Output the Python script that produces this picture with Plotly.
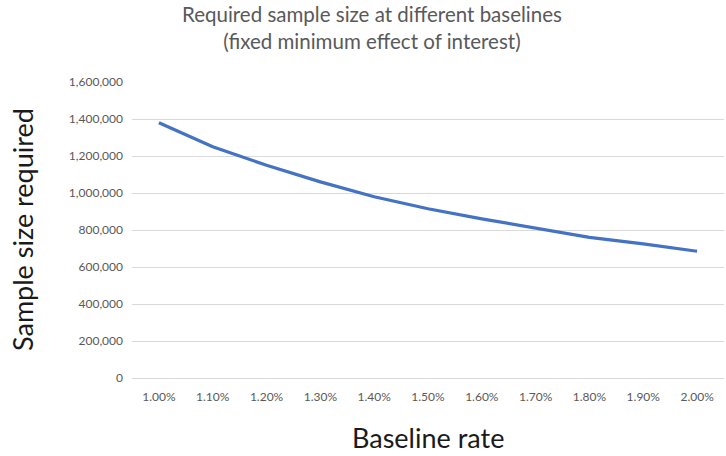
import plotly.graph_objects as go

baseline_rates = ["1.00%", "1.10%", "1.20%", "1.30%", "1.40%", "1.50%",
                  "1.60%", "1.70%", "1.80%", "1.90%", "2.00%"]
sample_sizes = [1380000, 1250000, 1150000, 1060000, 980000, 915000,
                860000, 810000, 760000, 725000, 685000]
y_ticks = [0, 200000, 400000, 600000, 800000, 1000000, 1200000, 1400000, 1600000]

FONT = "Lato, 'Open Sans', sans-serif"

fig = go.Figure()
fig.add_trace(go.Scatter(
    x=baseline_rates, y=sample_sizes, mode="lines",
    line=dict(color="#4472C4", width=3.2),
    showlegend=False, hoverinfo="skip",
))

fig.update_layout(
    width=726, height=456,
    margin=dict(l=132, r=2, t=82, b=78),
    paper_bgcolor="white", plot_bgcolor="white",
    font=dict(family=FONT, color="#595959", size=12),
    annotations=[
        dict(text="Required sample size at different baselines<br>(fixed minimum effect of interest)",
             xref="paper", yref="paper", x=0.406, y=1.0, yshift=82,
             xanchor="center", yanchor="top", showarrow=False,
             font=dict(family=FONT, size=20.5, color="#595959")),
        dict(text="Sample size required", xref="paper", yref="paper",
             x=0, xshift=-110, y=0.5, textangle=-90,
             xanchor="center", yanchor="middle", showarrow=False,
             font=dict(family=FONT, size=27, color="#1a1a1a")),
        dict(text="Baseline rate", xref="paper", yref="paper",
             x=0.5, y=0, yshift=-59, xanchor="center", yanchor="middle",
             showarrow=False, font=dict(family=FONT, size=27, color="#1a1a1a")),
    ],
)
fig.update_xaxes(type="category", showgrid=False, showline=False, zeroline=False,
                 ticks="", ticklabelstandoff=10,
                 tickfont=dict(size=12, color="#595959"),
                 range=[-0.5, len(baseline_rates) - 0.5])
fig.update_yaxes(range=[0, 1600000], tickvals=y_ticks,
                 ticktext=[f"{v:,}" for v in y_ticks],
                 showgrid=True, gridcolor="#D9D9D9", gridwidth=1,
                 zeroline=True, zerolinecolor="#D9D9D9", zerolinewidth=1,
                 showline=False, ticks="", ticklabelstandoff=8,
                 tickfont=dict(size=12, color="#595959"))

fig.write_html("out.html")
